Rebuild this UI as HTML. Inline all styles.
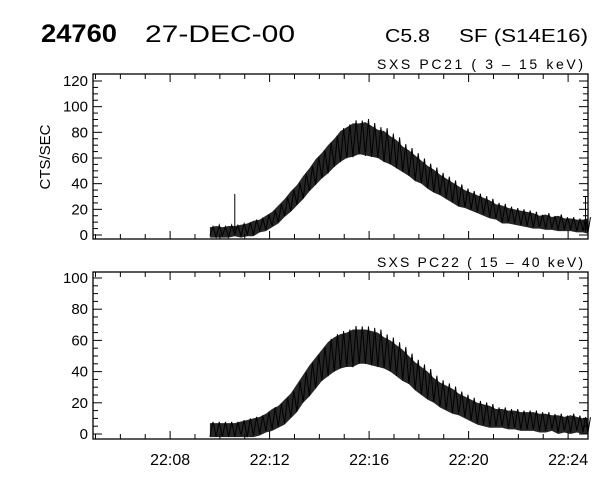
<!DOCTYPE html>
<html><head><meta charset="utf-8"><style>
html,body{margin:0;padding:0;background:#fff;}
svg{display:block;font-family:"Liberation Sans",sans-serif;}
</style></head><body>
<svg id="c" width="600" height="480" viewBox="0 0 600 480">
<text x="41" y="42" font-size="25" font-weight="bold" textLength="76" lengthAdjust="spacingAndGlyphs">24760</text>
<text x="145" y="42" font-size="24" textLength="150" lengthAdjust="spacingAndGlyphs">27-DEC-00</text>
<text x="385" y="42" font-size="18" textLength="45" lengthAdjust="spacingAndGlyphs">C5.8</text>
<text x="459" y="42" font-size="18" textLength="129" lengthAdjust="spacingAndGlyphs">SF (S14E16)</text>
</svg>
<script>
const xTickLabels = ["22:08","22:12","22:16","22:20","22:24"];
const xTickMinutes = [8,12,16,20,24];
const times = [9.6,9.85,10.1,10.35,10.6,10.85,11.1,11.35,11.6,11.85,12.1,12.35,12.6,12.85,13.1,13.35,13.6,13.85,14.1,14.35,14.6,14.85,15.1,15.35,15.6,15.85,16.1,16.35,16.6,16.85,17.1,17.35,17.6,17.85,18.1,18.35,18.6,18.85,19.1,19.35,19.6,19.85,20.1,20.35,20.6,20.85,21.1,21.35,21.6,21.85,22.1,22.35,22.6,22.85,23.1,23.35,23.6,23.85,24.1,24.35,24.6,24.8];
const pc21Mean = [3,3,3,3,4,4,5,6,8,10,13,17,22,27,32,38,44,50,55,60,65,70,73,75,76,76,74,72,70,67,64,60,57,53,50,46,43,40,37,34,31,29,27,25,23,21,19,17,16,15,14,13,12,11,11,10,10,9,9,8,8,8];
const pc21Spread = [3,4,3,4,3,4,4,5,4,5,5,6,6,7,7,8,8,9,9,10,10,11,11,12,11,12,11,10,11,10,10,9,9,9,8,8,8,7,7,7,7,6,6,6,6,6,5,6,5,5,5,5,5,4,5,4,5,4,4,4,4,5];
const pc21Spikes = [[10.6,32],[24.7,30]];
const pc22Mean = [3,3,3,3,3,4,4,5,6,8,10,12,15,19,24,30,35,40,45,49,52,54,55,56,57,57,56,55,53,51,48,45,42,38,35,32,29,26,24,22,20,18,16,14,13,12,11,11,10,10,9,9,9,8,8,8,7,7,7,7,6,6];
const pc22Spread = [4,4,4,4,4,4,5,5,5,5,6,6,7,7,8,8,9,9,9,10,10,10,10,11,10,10,10,10,9,9,9,9,8,8,8,8,7,7,7,7,6,6,6,6,6,6,5,5,5,5,5,5,5,5,5,4,5,4,5,4,4,4];
const pc21YTicks = [0,20,40,60,80,100,120];
const pc22YTicks = [0,20,40,60,80,100];

const NS="http://www.w3.org/2000/svg";
const svg=document.getElementById('c');
const X0=93,X1=588,T0=4.9,T1=24.8;
function xs(t){return X0+(t-T0)/(T1-T0)*(X1-X0);}
function mk(tag,attrs,parent){const e=document.createElementNS(NS,tag);for(const k in attrs)e.setAttribute(k,attrs[k]);(parent||svg).appendChild(e);return e;}

function panel(cfg){
  const g=mk('g',{});
  
  
  const ys=v=>cfg.y0-(v-0)/(cfg.vmax)*(cfg.y0-cfg.yTop);
  const fr=mk('rect',{x:X0,y:cfg.top,width:X1-X0,height:cfg.bottom-cfg.top,fill:'none',stroke:'#000','stroke-width':1.3},g);
  
  
  for(let m=5;m<=24;m++){
    const x=xs(m);const len=(m%4===0)?8:5;
    mk('line',{x1:x,x2:x,y1:cfg.bottom,y2:cfg.bottom-len,stroke:'#000'},g);
    mk('line',{x1:x,x2:x,y1:cfg.top,y2:cfg.top+len,stroke:'#000'},g);
  }
  const step=cfg.yTicks[1]-cfg.yTicks[0];
  for(let v=0;v<=cfg.vmax+0.01;v+=step/4){
    const y=ys(v);const major=Math.abs(v/step-Math.round(v/step))<1e-6;const len=major?9:5;
    mk('line',{x1:X0,x2:X0+len,y1:y,y2:y,stroke:'#000'},g);
    mk('line',{x1:X1,x2:X1-len,y1:y,y2:y,stroke:'#000'},g);
  }
  cfg.yTicks.forEach(v=>{
    const t=mk('text',{x:X0-5,y:ys(v)+5,'font-size':15,'text-anchor':'end'},g);
    t.textContent=v;
    
    
  });
  const ti=mk('text',{x:377,y:cfg.top-5,'font-size':14,textLength:206,lengthAdjust:'spacing'},g);
  ti.textContent=cfg.title;
  
  
  let up=[],lo=[];
  times.forEach((t,i)=>{up.push(xs(t)+','+ys(cfg.mean[i]+cfg.spread[i]));lo.unshift(xs(t)+','+ys(Math.max(0,cfg.mean[i]-cfg.spread[i])-2));});
  const env=mk('polygon',{points:up.concat(lo).join(' '),fill:'#000','fill-opacity':0.85,stroke:'none'},g);
  
  
  let pts=[];
  times.forEach((t,i)=>{
    const dt=(i<times.length-1?times[i+1]-t:0.2)/2;
    pts.push(xs(t)+','+ys(Math.max(-2,cfg.mean[i]-cfg.spread[i]*1.2)));
    pts.push(xs(t+dt)+','+ys(cfg.mean[i]+cfg.spread[i]*1.2));
  });
  const pl=mk('polyline',{points:pts.join(' '),fill:'none',stroke:'#000','stroke-width':1},g);
  
  
  (cfg.spikes||[]).forEach(s=>{
    const l=mk('line',{x1:xs(s[0]),x2:xs(s[0]),y1:ys(3),y2:ys(s[1]),stroke:'#000'},g);
    
    
  });
  return ys;
}
panel({name:'pc21-panel',top:74,bottom:239,y0:235,yTop:81,vmax:120,yTicks:pc21YTicks,title:'SXS PC21  (  3 \u2013 15 keV)',mean:pc21Mean,spread:pc21Spread,spikes:pc21Spikes});
panel({name:'pc22-panel',top:272,bottom:439,y0:434,yTop:278,vmax:100,yTicks:pc22YTicks,title:'SXS PC22  ( 15 \u2013 40 keV)',mean:pc22Mean,spread:pc22Spread});
const yl=mk('text',{x:0,y:0,'font-size':15,'text-anchor':'middle',transform:'translate(50,157) rotate(-90)'});
yl.textContent='CTS/SEC';


xTickLabels.forEach((lab,i)=>{
  const t=mk('text',{x:xs(xTickMinutes[i]),y:465,'font-size':16,'text-anchor':'middle'});
  t.textContent=lab;
  
  
});
</script>
</body></html>
